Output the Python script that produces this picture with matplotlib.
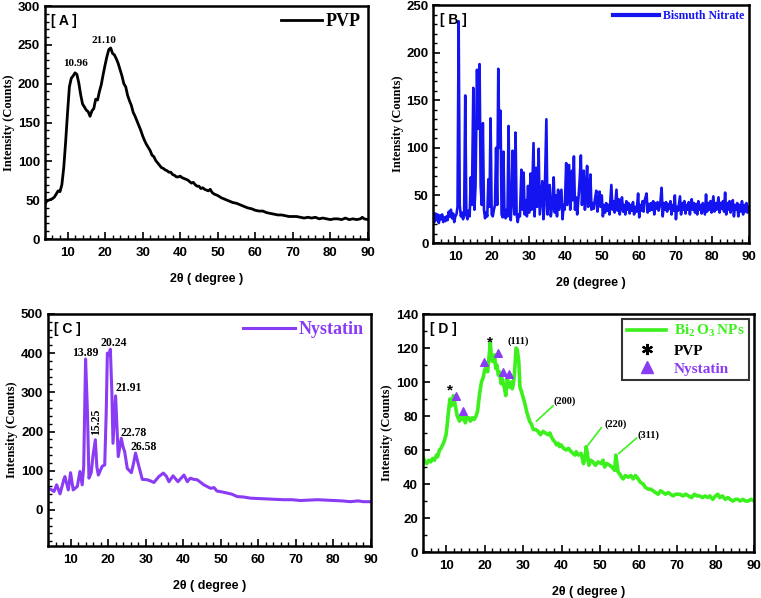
import matplotlib
matplotlib.use("Agg")
import matplotlib.pyplot as plt
from matplotlib.lines import Line2D
from matplotlib.ticker import MultipleLocator

plt.rcParams['mathtext.fontset'] = 'custom'
plt.rcParams['mathtext.rm'] = 'Liberation Serif:bold'
plt.rcParams['mathtext.bf'] = 'Liberation Serif:bold'

# ---------------- data ----------------
pvp_x = [4, 4.5, 5, 5.5, 6, 6.5, 7, 7.5, 8, 8.5, 9, 9.5, 10, 10.5, 11, 11.5, 12, 12.5, 13, 13.5,
         14, 14.5, 15, 15.5, 16, 16.5, 17, 17.5, 18, 18.5, 19, 19.5, 20, 20.5, 21, 21.5, 22, 22.5,
         23, 23.5, 24, 24.5, 25, 25.5, 26, 26.5, 27, 27.5, 28, 28.5, 29, 29.5, 30, 30.5, 31, 31.5,
         32, 32.5, 33, 33.5, 34, 34.5, 35, 35.5, 36, 36.5, 37, 37.5, 38, 38.5, 39, 39.5, 40, 40.5,
         41, 41.5, 42, 42.5, 43, 43.5, 44, 44.5, 45, 45.5, 46, 46.5, 47, 47.5, 48, 48.5, 49, 49.5,
         50, 51, 52, 53, 54, 55, 56, 57, 58, 59, 60, 61, 62, 63, 64, 65, 66, 67, 68, 69, 70,
         71, 72, 73, 74, 75, 76, 77, 78, 79, 80, 81, 82, 83, 84, 85, 86, 87, 88, 88.5, 89, 90]
pvp_y = [45, 49, 50, 51, 52, 54, 58, 62, 61, 70, 92, 125, 162, 196, 207, 210, 214, 212, 201, 186,
         174, 170, 166, 164, 158, 165, 168, 180, 179, 190, 199, 212, 224, 235, 244, 246, 239, 237,
         232, 226, 218, 210, 200, 196, 185, 178, 172, 163, 158, 152, 146, 140, 133, 127, 122, 118,
         114, 108, 106, 101, 98, 95, 92, 91, 89, 88, 86, 86, 83, 82, 80, 80, 81, 79,
         78, 77, 76, 74, 72, 73, 70, 68, 68, 65, 66, 64, 63, 62, 64, 60, 58, 57,
         56, 53, 51, 49, 47, 46, 44, 42, 40, 39, 37, 36, 36, 34, 33, 32, 31, 31, 30, 29, 29,
         29, 28, 27, 28, 27, 28, 26, 27, 26, 25, 26, 26, 25, 27, 25, 26, 25, 26, 28, 26, 25]

bn_x = [4.0, 4.3, 4.6, 4.9, 5.2, 5.5, 5.8, 6.1, 6.4, 6.7, 7.0, 7.3, 7.6, 7.9, 8.2, 8.5, 8.8, 9.1,
        9.4, 9.7, 10.0, 10.3, 10.6, 10.9, 11.2, 11.5, 11.8, 12.1, 12.4, 12.7, 13.0, 13.3, 13.6,
        13.9, 14.2, 14.5, 14.9, 15.2, 15.5, 15.9, 16.2, 16.6, 16.9, 17.2, 17.5, 17.8, 18.1, 18.4,
        18.7, 19.0, 19.3, 19.6, 19.9, 20.2, 20.5, 20.8, 21.1, 21.4, 21.7, 22.0, 22.3, 22.6, 22.9,
        23.1, 23.4, 23.7, 24.0, 24.2, 24.5, 24.8, 25.1, 25.3, 25.6, 25.9, 26.1, 26.4, 26.7, 27.0,
        27.3, 27.6, 28.0, 28.3, 28.6, 28.9, 29.2, 29.5, 29.8, 30.1, 30.5, 30.8, 31.3, 31.6, 32.0,
        32.3, 32.7, 33.0, 33.3, 33.7, 34.0, 34.3, 34.8, 35.1, 35.4, 35.7, 36.0, 36.4, 36.8, 37.1,
        37.4, 37.7, 38.0, 38.3, 38.6, 38.9, 39.2, 39.5, 39.8, 40.2, 40.5, 41.0, 41.3, 41.6, 41.8,
        42.0, 42.3, 42.6, 42.9, 43.2, 43.6, 43.9, 44.2, 44.5, 44.8, 45.0, 45.3, 45.6, 45.9, 46.2,
        46.5, 46.8, 47.1, 47.4, 47.7, 48.0, 48.4, 48.7, 49.0, 49.3, 49.6, 49.9, 50.2, 50.5, 50.8,
        51.1, 51.4, 51.7, 52.0, 52.5, 52.8, 53.1, 53.4, 53.9, 54.2, 54.5, 54.8, 55.1, 55.4, 55.7,
        56.0, 56.3, 56.6, 56.9, 57.2, 57.5, 57.8, 58.1, 58.4, 58.7, 59.0, 59.4, 59.8, 60.1, 60.4,
        60.7, 61.0, 61.3, 61.6, 62.1, 62.4, 62.7, 63.0, 63.3, 63.6, 63.9, 64.2, 64.5, 64.8, 65.1,
        65.4, 65.8, 66.2, 66.5, 66.8, 67.1, 67.4, 67.7, 68.0, 68.3, 68.6, 68.9, 69.2, 69.5, 69.8,
        70.1, 70.4, 70.7, 71.2, 71.5, 71.8, 72.1, 72.4, 72.7, 73.0, 73.3, 73.6, 73.9, 74.4, 74.7,
        75.0, 75.3, 75.6, 75.9, 76.2, 76.5, 76.8, 77.1, 77.4, 78.0, 78.3, 78.6, 78.9, 79.2, 79.5,
        79.8, 80.3, 80.6, 80.9, 81.2, 81.7, 82.0, 82.3, 82.6, 82.9, 83.2, 83.5, 83.8, 84.1, 84.4,
        84.7, 85.0, 85.3, 85.6, 85.9, 86.2, 86.5, 86.8, 87.1, 87.4, 87.7, 88.1, 88.4, 88.7, 89.0,
        89.3, 89.6, 90.0]
bn_y = [30, 22, 31, 24, 30, 21, 29, 25, 30, 22, 27, 23, 28, 24, 33, 28, 35, 26,
        31, 22, 28, 30, 38, 233, 40, 28, 32, 25, 30, 155, 30, 25, 34,
        28, 69, 40, 163, 35, 60, 182, 120, 188, 60, 40, 126, 35, 26, 32,
        28, 67, 38, 131, 30, 28, 35, 40, 100, 40, 183, 100, 139, 30, 27,
        96, 30, 26, 35, 28, 123, 30, 24, 40, 97, 45, 30, 116, 30, 22,
        30, 28, 77, 35, 74, 30, 45, 28, 60, 32, 73, 35, 105, 28, 79,
        38, 99, 30, 45, 65, 25, 40, 130, 30, 45, 61, 28, 40, 69, 32,
        50, 28, 56, 35, 45, 56, 25, 40, 35, 84, 40, 82, 35, 50, 76,
        45, 91, 35, 48, 30, 50, 68, 92, 40, 65, 76, 35, 50, 81, 38,
        52, 72, 35, 42, 36, 45, 55, 33, 42, 54, 38, 50, 28, 40, 32,
        42, 34, 40, 30, 61, 35, 44, 32, 56, 34, 46, 30, 42, 48, 33,
        40, 30, 44, 35, 42, 31, 40, 34, 43, 30, 38, 33, 52, 27, 40,
        34, 44, 33, 45, 52, 32, 41, 34, 42, 35, 44, 30, 42, 36, 43,
        34, 40, 58, 28, 42, 35, 43, 33, 41, 36, 44, 30, 40, 34, 50,
        25, 38, 34, 49, 30, 42, 35, 44, 31, 40, 35, 43, 30, 46, 35,
        42, 32, 41, 30, 44, 35, 40, 31, 42, 30, 51, 33, 42, 35, 44,
        32, 49, 33, 42, 35, 48, 32, 42, 36, 44, 33, 53, 30, 42, 35,
        44, 32, 40, 45, 28, 40, 35, 42, 28, 40, 33, 44, 30, 40, 33,
        42, 32, 38]

ny_x = [4.0, 4.8, 5.6, 6.3, 7.2, 8.2, 8.5, 9.4, 10.0, 10.7, 11.8, 12.5, 13.1, 13.5, 14.0, 14.5,
        14.9, 15.5, 16.0, 16.6, 17.0, 17.4, 18.4, 19.1, 19.5, 19.8, 20.2, 20.6, 21.0, 21.3, 22.0,
        22.7, 23.5, 24.0, 24.4, 25.1, 26.2, 26.8, 27.3, 28.2, 29.1, 30.4, 31.3, 32.2, 33.5, 34.7,
        35.5, 36.2, 37.3, 38.6, 40.2, 41.1, 41.9, 42.8, 43.7, 45.5, 47.3, 48.2, 49.0, 50.3, 51.7,
        53.0, 54.4, 56.0, 57.9, 60.0, 62.4, 64.5, 66.8, 69.0, 71.2, 73.5, 75.7, 78.0, 80.1, 82.3,
        84.5, 86.5, 88.0, 90.0]
ny_y = [55, 52, 47, 64, 41, 77, 85, 51, 95, 51, 60, 98, 64, 110, 385, 250,
        81, 95, 140, 179, 110, 89, 111, 115, 250, 400, 395, 410, 300, 170, 291,
        136, 183, 160, 149, 106, 95, 120, 145, 111, 78, 77, 74, 70, 85, 94,
        86, 72, 87, 72, 89, 72, 81, 78, 77, 64, 55, 57, 48, 46, 43,
        40, 34, 33, 30, 29, 28, 27, 26, 26, 24, 25, 26, 25, 24, 23,
        21, 23, 21, 21]

bi_x = [4.0, 4.5, 5.0, 5.5, 6.0, 6.5, 7.0, 7.5, 7.8, 8.3, 8.7, 9.1, 9.5, 10.0, 10.3, 10.6, 11.0,
        11.4, 11.9, 12.4, 12.9, 13.5, 13.9, 14.3, 14.7, 15.0, 15.4, 15.9, 16.3, 16.8, 17.3, 17.8,
        18.2, 18.7, 19.2, 19.7, 20.0, 20.4, 20.8, 21.1, 21.5, 21.8, 22.1, 22.6, 22.9, 23.2, 23.6,
        23.9, 24.3, 24.6, 25.2, 25.5, 25.9, 26.5, 26.9, 27.2, 27.5, 27.8, 28.2, 28.5, 28.9, 29.2,
        29.5, 30.0, 30.4, 31.0, 31.7, 32.2, 32.7, 33.3, 33.9, 34.5, 35.2, 35.8, 36.5, 37.0, 37.3,
        37.8, 38.2, 38.7, 39.1, 39.5, 39.9, 40.5, 41.2, 41.8, 42.5, 43.0, 43.5, 43.8, 44.4, 45.1,
        45.7, 46.1, 46.4, 46.7, 47.1, 47.6, 48.2, 48.8, 49.5, 50.3, 50.8, 51.2, 51.8, 52.5, 53.1,
        53.8, 54.1, 54.4, 54.7, 55.1, 55.6, 56.0, 56.6, 57.3, 58.0, 58.6, 59.2, 59.9, 60.5, 61.2,
        61.8, 62.5, 63.1, 63.8, 64.4, 65.1, 65.7, 66.4, 67.0, 67.7, 68.3, 69.0, 69.6, 70.7, 71.5,
        72.3, 73.0, 73.8, 74.5, 75.2, 75.9, 76.6, 77.3, 78.0, 78.5, 79.3, 80.0, 80.6, 81.1, 81.8,
        82.5, 83.2, 83.8, 84.5, 85.2, 85.8, 86.4, 87.1, 87.8, 88.5, 89.2, 90.0]
bi_y = [56, 53, 52, 54, 53, 55, 54, 57, 56, 60, 61, 63, 65, 69, 75, 82, 90,
        86, 92, 86, 80, 77, 80, 78, 80, 76, 79, 79, 77, 79, 78, 80,
        83, 93, 100, 103, 107, 109, 106, 113, 123, 114, 112, 116, 108, 110, 104,
        106, 99, 102, 96, 92, 102, 97, 100, 96, 99, 106, 120, 119, 112, 97,
        95, 91, 88, 82, 77, 75, 72, 72, 71, 69, 71, 70, 69, 70, 68,
        66, 65, 63, 64, 62, 63, 61, 60, 61, 59, 58, 57, 59, 57, 58,
        52, 55, 62, 58, 51, 54, 53, 51, 53, 52, 54, 50, 52, 51, 50,
        48, 57, 52, 47, 46, 44, 43, 45, 44, 45, 43, 45, 43, 41, 40,
        38, 37, 37, 36, 35, 34, 36, 35, 34, 35, 34, 33, 34, 34, 33,
        34, 33, 32, 34, 33, 33, 32, 33, 32, 33, 31, 33, 34, 32, 33,
        31, 32, 31, 30, 31, 31, 30, 31, 30, 30, 31, 30]

star_x = [11.1, 21.5]
star_y = [95, 123]
tri_x = [12.6, 14.3, 19.8, 23.4, 24.9, 26.3]
tri_y = [92, 83, 112, 117, 106, 104.5]

pvp_labels = [("10.96", 12.2, 226), ("21.10", 19.8, 255)]
ny_labels = [("13.89", 14.0, 400, 0), ("20.24", 21.4, 425, 0), ("21.91", 25.5, 310, 0),
             ("15.25", 16.8, 225, 90), ("22.78", 26.9, 197, 0), ("26.58", 29.5, 160, 0)]
# (label, text x, text y, line start x, line start y, line end x, line end y)
hkl_labels = [("(111)", 28.7, 124, None, None, None, None),
              ("(200)", 40.8, 89, 33.5, 77, 37.8, 86),
              ("(220)", 54.1, 75, 46.9, 63, 50.3, 73),
              ("(311)", 62.5, 69, 54.9, 58, 59.5, 67)]

# ---------------- style ----------------
SANS = 'Liberation Sans'
SERIF = 'Liberation Serif'
GREEN = '#3cf01e'
PURPLE = '#8a3cf5'
BLUE = '#1414f0'

fig = plt.figure(figsize=(7.61, 5.98), dpi=100)

def style_axes(ax, ymin, ymax, ymajor, yminor, xlabel):
    ax.set_xlim(4, 90)
    ax.set_ylim(ymin, ymax)
    ax.xaxis.set_major_locator(MultipleLocator(10))
    ax.xaxis.set_minor_locator(MultipleLocator(2))
    ax.yaxis.set_major_locator(MultipleLocator(ymajor))
    ax.yaxis.set_minor_locator(MultipleLocator(yminor))
    ax.tick_params(which='both', direction='in', top=False, right=False)
    ax.tick_params(which='major', length=5, width=1.2, labelsize=9.5)
    ax.tick_params(which='minor', length=3, width=1.0)
    ax.tick_params(axis='x', which='major', pad=6)
    ax.tick_params(axis='y', which='major', pad=3.5)
    for lab in ax.get_xticklabels() + ax.get_yticklabels():
        lab.set_fontfamily(SANS)
        lab.set_fontweight('bold')
    for s in ax.spines.values():
        s.set_linewidth(1.8)
    ax.set_ylabel('Intensity (Counts)', fontfamily=SERIF, fontweight='bold', fontsize=9, labelpad=2)
    ax.set_xlabel(xlabel, fontfamily=SANS, fontweight='bold', fontsize=9, labelpad=10)

# Panel A
axA = fig.add_axes([0.0591, 0.6003, 0.4244, 0.3896])
axA.plot(pvp_x, pvp_y, color='black', lw=2.0, label='PVP')
style_axes(axA, 0, 300, 50, 10, '2θ ( degree )')
axA.text(0.02, 0.935, '[ A ]', transform=axA.transAxes, fontfamily=SANS, fontweight='bold',
         fontsize=10, va='center', ha='left')
for t, x, y in pvp_labels:
    axA.text(x, y, t, fontfamily=SERIF, fontweight='bold', fontsize=8, ha='center', va='center')
axA.legend(loc='upper right', frameon=False, prop={'family': SERIF, 'weight': 'bold', 'size': 13},
           handlelength=2.3, handletextpad=0.2, borderaxespad=0.0, labelcolor='black')

# Panel B
axB = fig.add_axes([0.5694, 0.5936, 0.4148, 0.398])
axB.plot(bn_x, bn_y, color=BLUE, lw=1.9, label='Bismuth Nitrate')
style_axes(axB, 0, 250, 50, 10, '2θ (degree )')
axB.text(0.02, 0.935, '[ B ]', transform=axB.transAxes, fontfamily=SANS, fontweight='bold',
         fontsize=10, va='center', ha='left')
axB.legend(loc='upper right', frameon=False, prop={'family': SERIF, 'weight': 'bold', 'size': 8.5},
           handlelength=3.9, handletextpad=0.3, borderaxespad=0.0, labelcolor=BLUE)
for l in axB.get_legend().get_lines():
    l.set_linewidth(3)

# Panel C
axC = fig.add_axes([0.0631, 0.087, 0.4244, 0.388])
axC.plot(ny_x, ny_y, color=PURPLE, lw=2.2, label='Nystatin')
style_axes(axC, -92, 500, 100, 20, '2θ ( degree )')
axC.text(0.02, 0.935, '[ C ]', transform=axC.transAxes, fontfamily=SANS, fontweight='bold',
         fontsize=10, va='center', ha='left')
for t, x, y, r in ny_labels:
    axC.text(x, y, t, fontfamily=SERIF, fontweight='bold', fontsize=8.5, ha='center', va='center',
             rotation=r)
axC.legend(loc='upper right', frameon=False, prop={'family': SERIF, 'weight': 'bold', 'size': 13},
           handlelength=2.9, handletextpad=0.2, borderaxespad=0.0, labelcolor=PURPLE)

# Panel D
axD = fig.add_axes([0.5558, 0.0769, 0.4350, 0.398])
axD.plot(bi_x, bi_y, color=GREEN, lw=2.6)
style_axes(axD, 0, 140, 20, 10, '2θ ( degree )')
axD.text(0.02, 0.935, '[ D ]', transform=axD.transAxes, fontfamily=SANS, fontweight='bold',
         fontsize=10, va='center', ha='left')
for x, y in zip(star_x, star_y):
    axD.text(x, y, '*', fontfamily=SANS, fontweight='bold', fontsize=11, ha='center', va='center')
axD.scatter(tri_x, tri_y, marker='^', s=30, color=PURPLE, zorder=3)
for t, tx, ty, x0, y0, x1, y1 in hkl_labels:
    axD.text(tx, ty, t, fontfamily=SERIF, fontweight='bold', fontsize=7.5, ha='center', va='center')
    if x0 is not None:
        axD.plot([x0, x1], [y0, y1], color=GREEN, lw=1.2)
handles = [Line2D([], [], color=GREEN, lw=2.6),
           Line2D([], [], ls='none', marker=(6, 2, 0), color='black', markersize=8,
                  markeredgewidth=1.6),
           Line2D([], [], ls='none', marker='^', color=PURPLE, markersize=9)]
labels = [r'$\mathrm{Bi_{2}\,O_{3}\,NPs}$', 'PVP', 'Nystatin']
legD = axD.legend(handles, labels, loc='upper right', frameon=True, fancybox=False,
                  prop={'family': SERIF, 'weight': 'bold', 'size': 11},
                  handlelength=2.6, handletextpad=0.5, borderaxespad=0.3, labelspacing=0.3,
                  borderpad=0.3)
legD.get_frame().set_edgecolor('black')
legD.get_frame().set_linewidth(1.5)
for txt, c in zip(legD.get_texts(), [GREEN, 'black', PURPLE]):
    txt.set_color(c)

fig.savefig('out.png', dpi=100)
